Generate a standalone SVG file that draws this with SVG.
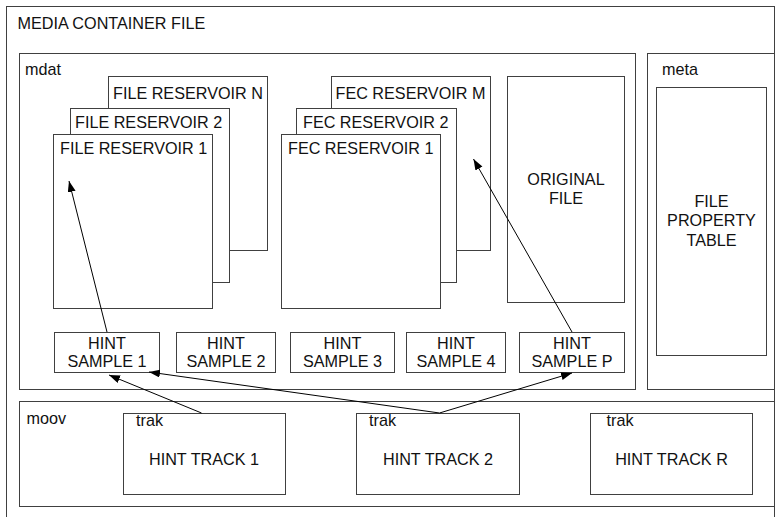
<svg xmlns="http://www.w3.org/2000/svg" width="776" height="517" viewBox="0 0 776 517">
<style>
.b{fill:#fff;stroke:#404040;stroke-width:1}
.t{font-family:"Liberation Sans",Arial,sans-serif;font-size:16.2px;fill:#111}
.c{text-anchor:middle}
.a{stroke:#000;stroke-width:1;fill:none;marker-end:url(#ah)}
</style>
<defs>
<marker id="ah" markerUnits="userSpaceOnUse" markerWidth="12" markerHeight="9" refX="11" refY="4" orient="auto">
<path d="M0,0 L11,4 L0,8 z" fill="#000"/>
</marker>
</defs>
<rect width="776" height="517" fill="#fff"/>
<g id="media-container-file">
<rect class="b" x="6.5" y="6.5" width="768" height="530"/>
<text class="t" x="17.5" y="29">MEDIA CONTAINER FILE</text>
</g>
<g id="mdat">
<rect class="b" x="19.5" y="53.5" width="616" height="336"/>
<text class="t" x="25" y="75">mdat</text>
</g>
<g id="meta">
<rect class="b" x="647.5" y="53.5" width="127" height="336"/>
<text class="t" x="662" y="75">meta</text>
</g>
<g id="file-property-table">
<rect class="b" x="656.5" y="87.5" width="110" height="268"/>
<text class="t c" x="711.5" y="206.5">FILE</text>
<text class="t c" x="711.5" y="226">PROPERTY</text>
<text class="t c" x="711.5" y="245.5">TABLE</text>
</g>
<g id="moov">
<rect class="b" x="19.5" y="401.5" width="755" height="105"/>
<text class="t" x="26.5" y="423.5">moov</text>
</g>
<g id="file-reservoir-n">
<rect class="b" x="108.5" y="76.5" width="159" height="174"/>
<text class="t" x="113" y="99">FILE RESERVOIR N</text>
</g>
<g id="file-reservoir-2">
<rect class="b" x="70.5" y="108.5" width="159" height="174"/>
<text class="t" x="75" y="128">FILE RESERVOIR 2</text>
</g>
<g id="file-reservoir-1">
<rect class="b" x="53.5" y="134.5" width="159" height="174"/>
<text class="t" x="60" y="154">FILE RESERVOIR 1</text>
</g>
<g id="fec-reservoir-m">
<rect class="b" x="331.5" y="76.5" width="159" height="174"/>
<text class="t" x="335.5" y="99">FEC RESERVOIR M</text>
</g>
<g id="fec-reservoir-2">
<rect class="b" x="296.5" y="108.5" width="160" height="174"/>
<text class="t" x="303" y="128">FEC RESERVOIR 2</text>
</g>
<g id="fec-reservoir-1">
<rect class="b" x="281.5" y="134.5" width="159" height="174"/>
<text class="t" x="288" y="153.5">FEC RESERVOIR 1</text>
</g>
<g id="original-file">
<rect class="b" x="507.5" y="76.5" width="117" height="226"/>
<text class="t c" x="566" y="185">ORIGINAL</text>
<text class="t c" x="566" y="204">FILE</text>
</g>
<g id="hint-sample-1">
<rect class="b" x="54.5" y="332.5" width="105" height="40"/>
<text class="t c" x="107" y="348.5">HINT</text>
<text class="t c" x="107" y="367">SAMPLE 1</text>
</g>
<g id="hint-sample-2">
<rect class="b" x="176.5" y="332.5" width="99" height="40"/>
<text class="t c" x="226" y="348.5">HINT</text>
<text class="t c" x="226" y="367">SAMPLE 2</text>
</g>
<g id="hint-sample-3">
<rect class="b" x="290.5" y="332.5" width="104" height="40"/>
<text class="t c" x="342.5" y="348.5">HINT</text>
<text class="t c" x="342.5" y="367">SAMPLE 3</text>
</g>
<g id="hint-sample-4">
<rect class="b" x="406.5" y="332.5" width="99" height="40"/>
<text class="t c" x="456" y="348.5">HINT</text>
<text class="t c" x="456" y="367">SAMPLE 4</text>
</g>
<g id="hint-sample-p">
<rect class="b" x="519.5" y="332.5" width="105" height="40"/>
<text class="t c" x="572" y="348.5">HINT</text>
<text class="t c" x="572" y="367">SAMPLE P</text>
</g>
<g id="hint-track-1">
<rect class="b" x="123.5" y="413.5" width="162" height="81"/>
<text class="t" x="136" y="426">trak</text>
<text class="t c" x="204" y="465">HINT TRACK 1</text>
</g>
<g id="hint-track-2">
<rect class="b" x="356.5" y="413.5" width="163" height="81"/>
<text class="t" x="369" y="426">trak</text>
<text class="t c" x="438" y="465">HINT TRACK 2</text>
</g>
<g id="hint-track-r">
<rect class="b" x="590.5" y="413.5" width="162" height="81"/>
<text class="t" x="606.5" y="426">trak</text>
<text class="t c" x="671.5" y="465">HINT TRACK R</text>
</g>
<g id="connectors">
<line class="a" x1="107" y1="332" x2="69" y2="181"/>
<line class="a" x1="572" y1="332" x2="473.5" y2="159"/>
<line class="a" x1="201.5" y1="413" x2="109" y2="375"/>
<line class="a" x1="439.5" y1="413" x2="149" y2="372"/>
<line class="a" x1="439.5" y1="413" x2="572" y2="373"/>
</g>
</svg>
